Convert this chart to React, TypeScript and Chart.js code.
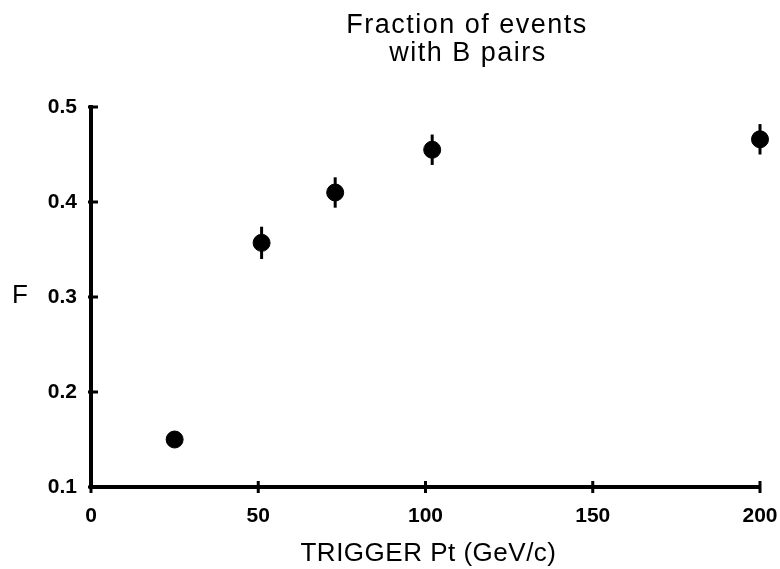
import React, { useEffect, useRef } from "react";
import { Chart, registerables } from "chart.js";

Chart.register(...registerables);

const titleLines = ["Fraction of events", "with B pairs"];
const xAxisTitle = "TRIGGER Pt (GeV/c)";
const yAxisTitle = "F";

const triggerPt = [25, 51, 73, 102, 200];
const fraction = [0.15, 0.357, 0.41, 0.455, 0.466];
const fractionErr = [0.004, 0.017, 0.016, 0.016, 0.016];

const xTicks = [0, 50, 100, 150, 200];
const yTicks = [0.1, 0.2, 0.3, 0.4, 0.5];

const FONT = "'Liberation Sans', Arial, sans-serif";

const decorPlugin = {
  id: "decor",
  afterDatasetsDraw(chart: any) {
    const ctx = chart.ctx;
    const xs = chart.scales.x;
    const ys = chart.scales.y;
    ctx.save();
    // error bars
    ctx.strokeStyle = "#000";
    ctx.lineWidth = 3;
    for (let i = 0; i < triggerPt.length; i++) {
      const px = xs.getPixelForValue(triggerPt[i]);
      ctx.beginPath();
      ctx.moveTo(px, ys.getPixelForValue(fraction[i] - fractionErr[i]));
      ctx.lineTo(px, ys.getPixelForValue(fraction[i] + fractionErr[i]));
      ctx.stroke();
    }
    // cross tick marks
    const area = chart.chartArea;
    ctx.lineWidth = 3;
    for (const t of yTicks) {
      const py = ys.getPixelForValue(t);
      ctx.beginPath();
      ctx.moveTo(area.left - 3, py);
      ctx.lineTo(area.left + 7, py);
      ctx.stroke();
    }
    for (const t of xTicks) {
      const px = xs.getPixelForValue(t);
      ctx.beginPath();
      ctx.moveTo(px, area.bottom - 6);
      ctx.lineTo(px, area.bottom + 6);
      ctx.stroke();
    }
    // titles
    ctx.fillStyle = "#000";
    ctx.textAlign = "center";
    ctx.textBaseline = "alphabetic";
    ctx.font = `27px ${FONT}`;
    try { (ctx as any).letterSpacing = "1.5px"; } catch (e) {}
    ctx.fillText(titleLines[0], 467, 33);
    ctx.fillText(titleLines[1], 468, 61);
    ctx.font = `26px ${FONT}`;
    try { (ctx as any).letterSpacing = "0.5px"; } catch (e) {}
    ctx.fillText(xAxisTitle, (area.left + area.right) / 2 + 3, 561);
    try { (ctx as any).letterSpacing = "0px"; } catch (e) {}
    ctx.textAlign = "left";
    ctx.font = `26px ${FONT}`;
    ctx.fillText(yAxisTitle, 12, ys.getPixelForValue(0.3) + 6);
    ctx.restore();
  },
};

export default function App() {
  const ref = useRef<HTMLCanvasElement>(null);
  useEffect(() => {
    if (!ref.current) return;
    const chart = new Chart(ref.current, {
      type: "scatter",
      data: {
        datasets: [
          {
            data: triggerPt.map((x, i) => ({ x, y: fraction[i] })),
            backgroundColor: "#000",
            borderColor: "#000",
            pointRadius: 8.5,
            pointHoverRadius: 8.5,
            clip: false as any,
          },
        ],
      },
      options: {
        animation: false,
        responsive: false,
        devicePixelRatio: 1,
        layout: { padding: { top: 107, right: 20, left: 0, bottom: 0 } },
        plugins: { legend: { display: false }, tooltip: { enabled: false }, title: { display: false } },
        scales: {
          x: {
            type: "linear",
            min: 0,
            max: 200,
            afterFit: (s: any) => { s.height = 82; s.paddingLeft = 0; s.paddingRight = 0; },
            afterBuildTicks: (s: any) => { s.ticks = xTicks.map((v) => ({ value: v })); },
            grid: { display: false, drawTicks: false },
            border: { display: true, color: "#000", width: 4 },
            ticks: {
              color: "#000",
              font: { family: FONT, size: 21, weight: "bold" },
              padding: 17,
              maxRotation: 0,
              callback: (v: any) => String(v),
            },
          },
          y: {
            type: "linear",
            min: 0.1,
            max: 0.5,
            afterFit: (s: any) => { s.width = 91; s.paddingTop = 0; s.paddingBottom = 0; },
            afterBuildTicks: (s: any) => { s.ticks = yTicks.map((v) => ({ value: v })); },
            grid: { display: false, drawTicks: false },
            border: { display: true, color: "#000", width: 4 },
            ticks: {
              color: "#000",
              font: { family: FONT, size: 21, weight: "bold" },
              padding: 14,
              callback: (v: any) => Number(v).toFixed(1),
            },
          },
        },
      },
      plugins: [decorPlugin],
    });
    return () => chart.destroy();
  }, []);
  return (
    <div style={{ position: "fixed", left: 0, top: 0, width: 780, height: 569, background: "#fff" }}>
      <canvas ref={ref} width={780} height={569} style={{ display: "block" }} />
    </div>
  );
}
